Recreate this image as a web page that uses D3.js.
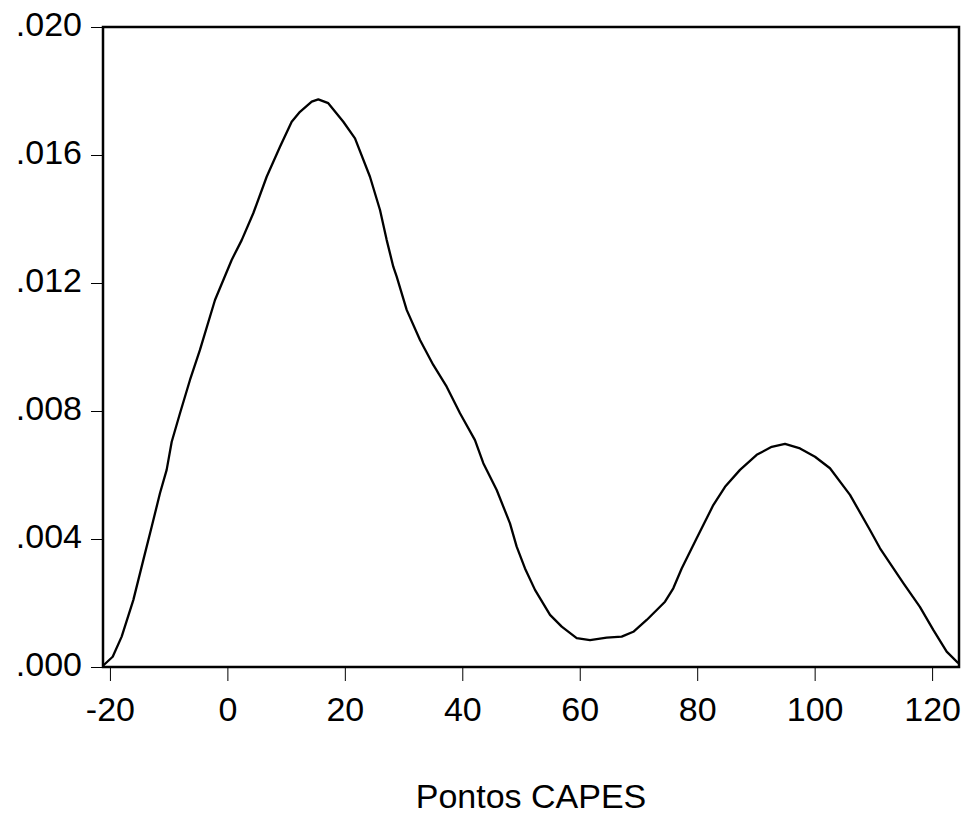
<!DOCTYPE html>
<html>
<head>
<meta charset="utf-8">
<script src="https://cdn.jsdelivr.net/npm/d3@7"></script>
<style>
  body { margin: 0; background: #fff; }
  svg text { font-family: "Liberation Sans", Arial, sans-serif; fill: #000; }
</style>
</head>
<body>
<div id="chart"></div>
<script>
var width = 968;
var height = 815;
var plotLeft = 103, plotRight = 959, plotTop = 27, plotBottom = 667;

// kernel density
var xVals = [-21.18, -19.53, -18.0, -16.02, -14.32, -12.89, -11.48, -10.34, -9.48, -8.07,
  -6.37, -4.67, -2.11, 0.73, 2.44, 4.41, 6.69, 8.96, 10.95, 12.36,
  14.36, 15.48, 17.18, 19.74, 21.73, 24.28, 25.99, 27.13, 28.25, 28.83,
  30.53, 32.8, 35.06, 37.34, 39.61, 42.16, 43.58, 45.86, 48.12, 49.26,
  50.68, 52.38, 54.94, 56.93, 59.48, 61.75, 64.59, 67.14, 69.12, 71.4,
  74.52, 75.93, 77.36, 79.91, 82.74, 84.74, 87.29, 90.13, 92.69, 94.95,
  97.51, 100.06, 102.61, 106.02, 109.42, 111.13, 115.1, 117.92, 120.2, 122.48, 124.46];
var density = [0.00004, 0.00032, 0.00095, 0.00209, 0.00334, 0.00438, 0.00543, 0.00616, 0.00704, 0.00793,
  0.00897, 0.00991, 0.01147, 0.01272, 0.01334, 0.01418, 0.01532, 0.01626, 0.01704, 0.01735,
  0.01767, 0.01774, 0.01762, 0.01704, 0.01652, 0.01532, 0.01428, 0.01334, 0.01251, 0.0122,
  0.01116, 0.01022, 0.00944, 0.00876, 0.00793, 0.00709, 0.00637, 0.00553, 0.00449, 0.00376,
  0.00308, 0.00241, 0.00163, 0.00126, 0.0009, 0.00084, 0.00092, 0.00095, 0.0011, 0.00147,
  0.00204, 0.00246, 0.00308, 0.00402, 0.00506, 0.00563, 0.00616, 0.00663, 0.00688, 0.00697,
  0.00683, 0.00657, 0.00621, 0.00538, 0.00428, 0.00371, 0.00262, 0.00188, 0.00116, 0.00048, 0.00012];
var xTicks = [-20, 0, 20, 40, 60, 80, 100, 120];
var yTicks = [0, 0.004, 0.008, 0.012, 0.016, 0.020];
var xTitle = "Pontos CAPES";

var svg = d3.select("#chart").append("svg")
  .attr("width", width).attr("height", height);

var x = d3.scaleLinear().domain([-21.18, 124.58]).range([plotLeft, plotRight]);
var y = d3.scaleLinear().domain([0, 0.020]).range([plotBottom, plotTop]);

var yAxis = d3.axisLeft(y).tickValues(yTicks).tickSize(12).tickPadding(9)
  .tickFormat(function(d){ return d3.format(".3f")(d).replace(/^0/, ""); });
var yG = svg.append("g").attr("transform", "translate(" + plotLeft + ",0)").call(yAxis);
yG.select(".domain").remove();
yG.selectAll("line").attr("stroke", "#000").attr("stroke-width", 1);
yG.selectAll("text").attr("font-size", 34).attr("dy", "0.26em")
  .style("font-family", "'Liberation Sans', Arial, sans-serif");

// plain hyphen for negatives, like the original
var xAxis = d3.axisBottom(x).tickValues(xTicks).tickSize(14).tickPadding(16)
  .tickFormat(function(d){ return String(d); });
var xG = svg.append("g").attr("transform", "translate(0," + plotBottom + ")").call(xAxis);
xG.select(".domain").remove();
xG.selectAll("line").attr("stroke", "#000").attr("stroke-width", 1);
xG.selectAll("text").attr("font-size", 34)
  .style("font-family", "'Liberation Sans', Arial, sans-serif");

svg.append("clipPath").attr("id", "clip").append("rect")
  .attr("x", plotLeft).attr("y", plotTop)
  .attr("width", plotRight - plotLeft).attr("height", plotBottom - plotTop);

var points = xVals.map(function(v, i){ return [v, density[i]]; });
var line = d3.line().x(function(d){ return x(d[0]); }).y(function(d){ return y(d[1]); });

svg.append("path").datum(points)
  .attr("clip-path", "url(#clip)")
  .attr("d", line)
  .attr("fill", "none")
  .attr("stroke", "#000")
  .attr("stroke-width", 2.3)
  .attr("stroke-linejoin", "round");

svg.append("rect")
  .attr("x", plotLeft).attr("y", plotTop)
  .attr("width", plotRight - plotLeft).attr("height", plotBottom - plotTop)
  .attr("fill", "none").attr("stroke", "#000").attr("stroke-width", 2.5);

svg.append("text")
  .attr("x", (plotLeft + plotRight) / 2).attr("y", 808)
  .attr("text-anchor", "middle").attr("font-size", 34)
  .text(xTitle);
</script>
</body>
</html>
